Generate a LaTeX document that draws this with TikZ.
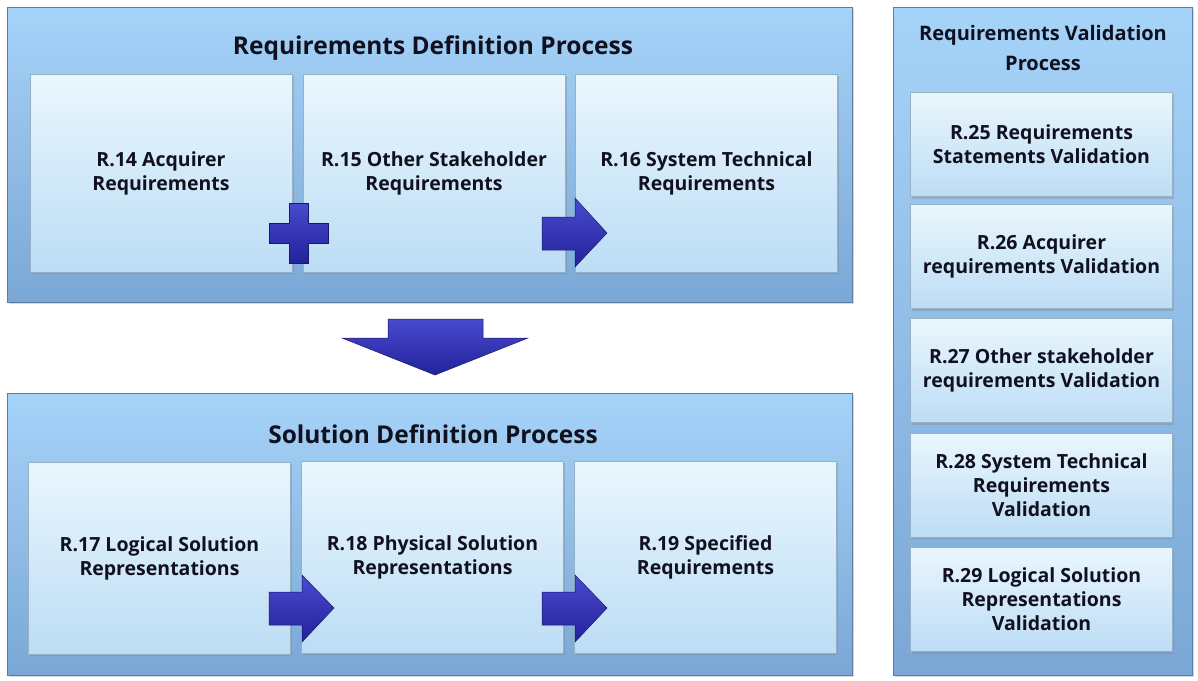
\documentclass[tikz,border=0pt]{standalone}
\usepackage{fontspec}
\setmainfont{Open Sans}
\usetikzlibrary{shadows}

\definecolor{panelTop}{HTML}{A6D3F8}
\definecolor{panelBot}{HTML}{7BA7D6}
\definecolor{boxTop}{HTML}{EAF6FD}
\definecolor{boxBot}{HTML}{BCDDF5}
\definecolor{arrowLight}{HTML}{4A4AD0}
\definecolor{arrowDark}{HTML}{22229A}
\definecolor{textNavy}{HTML}{10101F}

\begin{document}
\begin{tikzpicture}[x=1pt,y=-1pt,
  panel/.style={draw=panelBot!75!black, line width=0.8pt, top color=panelTop, bottom color=panelBot,
    drop shadow={opacity=0.3, shadow xshift=2pt, shadow yshift=-2pt}, inner sep=0pt},
  itembox/.style={draw=boxBot!80!black, line width=0.4pt, top color=boxTop, bottom color=boxBot,
    drop shadow={opacity=0.35, shadow xshift=1.5pt, shadow yshift=-2pt},
    minimum width=262, align=center, text=textNavy, inner sep=2pt,
    font=\bfseries\fontsize{19.5}{24}\selectfont},
  paneltitle/.style={align=center, text=textNavy, font=\bfseries\fontsize{24.5}{30}\selectfont},
  blockarrow/.style={draw=arrowDark!70!black, line width=0.5pt, top color=arrowLight, bottom color=arrowDark}]
\useasboundingbox (0,0) rectangle (1198,680);
\fill[white] (0,0) rectangle (1198,680);
% panels
\node[panel, minimum width=845, minimum height=295] (reqdef) at (429.5,154.5) {};
\node[panel, minimum width=845, minimum height=282] (soldef) at (429.5,534) {};
\node[panel, minimum width=299, minimum height=668] (reqval) at (1042.5,341) {};
\node[paneltitle] (reqdeftitle) at (433,48) {Requirements Definition Process};
\node[paneltitle] (soldeftitle) at (433,434) {Solution Definition Process};
\node[paneltitle, font=\bfseries\fontsize{20}{30}\selectfont] (reqvaltitle) at (1043,48) {Requirements Validation\\Process};
% requirements definition
\node[itembox, minimum height=198] (r14) at (161,173) {R.14 Acquirer\\Requirements};
\node[itembox, minimum height=198] (r15) at (434,173) {R.15 Other Stakeholder\\Requirements};
\node[itembox, minimum height=198] (r16) at (706.5,173) {R.16 System Technical\\Requirements};
% solution definition
\node[itembox, minimum height=192] (r17) at (159.5,558) {R.17 Logical Solution\\Representations};
\node[itembox, minimum height=192] (r18) at (432.5,557) {R.18 Physical Solution\\Representations};
\node[itembox, minimum height=192] (r19) at (705.5,557) {R.19 Specified\\Requirements};
% validation
\node[itembox, minimum height=104] (r25) at (1041.5,144.5) {R.25 Requirements\\Statements Validation};
\node[itembox, minimum height=104] (r26) at (1041.5,256.5) {R.26 Acquirer\\requirements Validation};
\node[itembox, minimum height=104] (r27) at (1041.5,370.5) {R.27 Other stakeholder\\requirements Validation};
\node[itembox, minimum height=104] (r28) at (1041.5,485) {R.28 System Technical\\Requirements\\Validation};
\node[itembox, minimum height=104] (r29) at (1041.5,599.5) {R.29 Logical Solution\\Representations\\Validation};
% block arrows
\draw[blockarrow] (289,203) -- (308,203) -- (308,223) -- (328,223) -- (328,243) -- (308,243)
  -- (308,263) -- (289,263) -- (289,243) -- (269,243) -- (269,223) -- (289,223) -- cycle;
\draw[blockarrow] (542,217) -- (575,217) -- (575,198) -- (607,233) -- (575,267) -- (575,250) -- (542,250) -- cycle;
\draw[blockarrow] (388,319) -- (483,319) -- (483,338) -- (528,338) -- (435,375) -- (342,338) -- (388,338) -- cycle;
\draw[blockarrow] (269,592) -- (302,592) -- (302,575) -- (334,608) -- (302,642) -- (302,625) -- (269,625) -- cycle;
\draw[blockarrow] (542,592) -- (575,592) -- (575,575) -- (607,608) -- (575,642) -- (575,625) -- (542,625) -- cycle;
\end{tikzpicture}
\end{document}
